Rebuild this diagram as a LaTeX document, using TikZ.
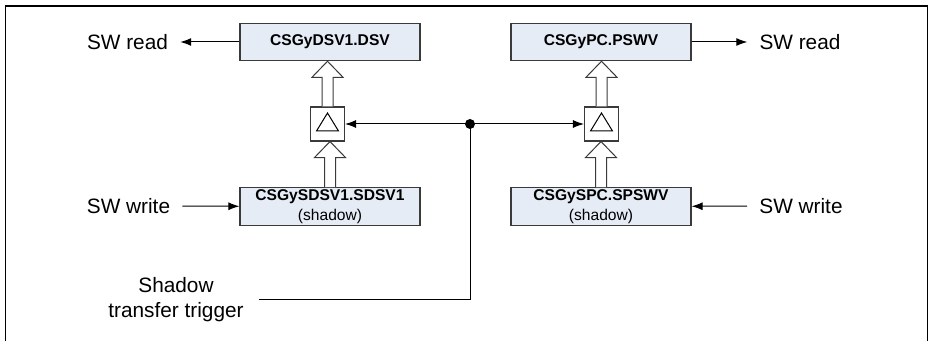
\documentclass[tikz,border=0pt]{standalone}
\usepackage{fontspec}
\setmainfont{Liberation Sans}
\usetikzlibrary{arrows.meta,calc}
\definecolor{regfill}{HTML}{E6ECF6}
\definecolor{edge}{HTML}{3A3A3A}

% hollow block arrow: #1 tail anchor, #2 tip anchor
\newcommand{\blockarrow}[2]{%
  \draw[edge,line width=.75pt,fill=white,line join=miter]
    ($(#1)+(-.55,0)$) -- ($(#1|-#2)+(-.55,1.6)$) -- ($(#1|-#2)+(-1.55,1.6)$)
    -- (#1|-#2) -- ($(#1|-#2)+(1.55,1.6)$) -- ($(#1|-#2)+(.55,1.6)$) -- ($(#1)+(.55,0)$);}

\begin{document}
\begin{tikzpicture}[>={Latex[length=8.25pt,width=6pt]},x=7.5pt,y=-7.5pt,
    reg/.style={draw=edge,line width=.9pt,fill=regfill,minimum width=135pt,
      minimum height=28pt,inner sep=0pt,align=center,
      font=\fontsize{11.7}{15}\selectfont},
    trbox/.style={draw=edge,line width=.8pt,fill=white,minimum size=25.5pt,inner sep=0pt},
    lbl/.style={font=\fontsize{15.6}{18.75}\selectfont,inner xsep=9pt,align=center},
    wire/.style={line width=.75pt}]
  \useasboundingbox (0,0) rectangle (92.8,34.1);
  \draw[line width=1.1pt] (.55,34.1) -- (.55,.6) -- (92.75,.6) -- (92.75,34.1);

  % registers
  \node[reg] (dsv) at (33,4.2) {\textbf{CSGyDSV1.DSV}};
  \node[reg] (pswv) at (60.1,4.2) {\textbf{CSGyPC.PSWV}};
  \node[reg] (sdsv) at (33,20.65) {\textbf{CSGySDSV1.SDSV1}\\(shadow)};
  \node[reg] (spswv) at (60.1,20.65) {\textbf{CSGySPC.SPSWV}\\(shadow)};

  % transfer gates
  \node[trbox] (tL) at (32.75,12.4) {};
  \node[trbox] (tR) at (60.15,12.4) {};
  \foreach \t in {tL,tR}
    \draw[line width=.75pt] ($(\t)+(0,-1.1)$) -- ($(\t)+(1.1,.7)$) -- ($(\t)+(-1.1,.7)$) -- cycle;

  \blockarrow{tL.north}{dsv.south}
  \blockarrow{sdsv.north}{tL.south}
  \blockarrow{tR.north}{pswv.south}
  \blockarrow{spswv.north}{tR.south}

  % software access
  \node[lbl] (rdL) at (12.75,4.2) {SW read};
  \node[lbl] (rdR) at (80,4.2) {SW read};
  \node[lbl] (wrL) at (12.85,20.6) {SW write};
  \node[lbl] (wrR) at (80.1,20.6) {SW write};
  \draw[wire,->] (dsv) -- (rdL);
  \draw[wire,->] (pswv) -- (rdR);
  \draw[wire,->] (wrL) -- (sdsv);
  \draw[wire,->] (wrR) -- (spswv);

  % trigger
  \node[lbl,inner xsep=11.25pt] (trig) at (17.6,30) {Shadow\\transfer trigger};
  \coordinate (junc) at (47,12.4);
  \draw[wire,<->] (tL) -- (tR);
  \draw[wire] (junc) |- (trig);
  \fill (junc) circle (3.75pt);
\end{tikzpicture}
\end{document}
